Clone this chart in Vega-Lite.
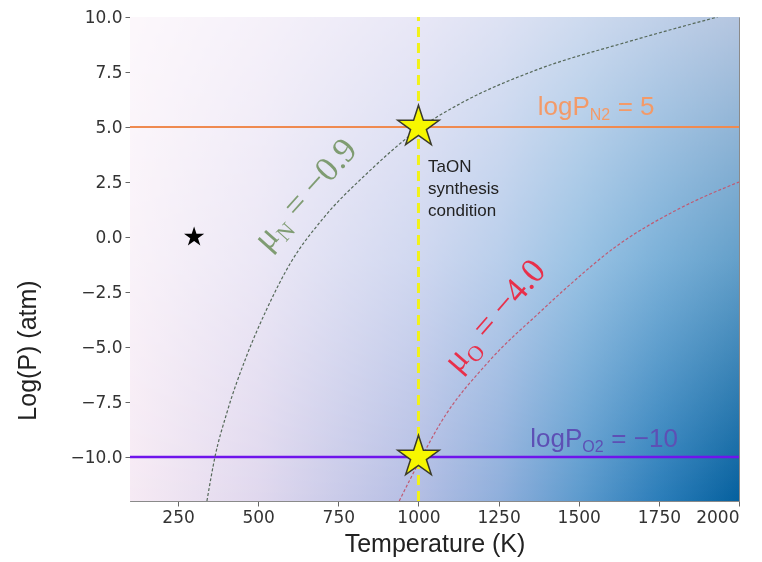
{
  "$schema": "https://vega.github.io/schema/vega-lite/v6.json",
  "width": 609,
  "height": 484,
  "autosize": {"type": "none"},
  "padding": {"left": 130, "top": 17, "right": 23, "bottom": 61},
  "background": "white",
  "config": {
    "view": {"stroke": "#8a8a8a", "strokeWidth": 1},
    "axis": {"grid": false, "domain": true, "domainColor": "#8a8a8a", "tickColor": "#666", "tickSize": 5, "labelPadding": 3, "labelFont": "DejaVu Sans", "labelFontSize": 17, "labelColor": "#333", "titleFont": "Liberation Sans", "titleFontSize": 25, "titleFontWeight": "normal", "titleColor": "#222"}
  },
  "layer": [
    {
      "data": {"values": [{"t": 100, "t2": 2000, "p": -12, "p2": 10}]},
      "layer": [
        {
          "mark": {"type": "rect", "fill": {"gradient": "linear", "x1": 0, "y1": 0, "x2": 1, "y2": 0, "stops": [
            {"offset": 0, "color": "#f6eaf4"},
            {"offset": 0.21, "color": "#e0d8ee"},
            {"offset": 0.47, "color": "#b4bee4"},
            {"offset": 0.61, "color": "#8eaedb"},
            {"offset": 0.74, "color": "#5c9acd"},
            {"offset": 0.87, "color": "#2b7db9"},
            {"offset": 1, "color": "#05609e"}]}, "stroke": null},
          "encoding": {
            "x": {"field": "t", "type": "quantitative", "scale": {"domain": [100, 2000], "nice": false, "zero": false},
              "axis": {"title": "Temperature (K)", "values": [250, 500, 750, 1000, 1250, 1500, 1750, 2000], "format": "d", "titleY": 30, "titleBaseline": "top"}},
            "x2": {"field": "t2"},
            "y": {"field": "p", "type": "quantitative", "scale": {"domain": [-12, 10], "nice": false, "zero": false},
              "axis": {"title": "Log(P) (atm)", "values": [-10, -7.5, -5, -2.5, 0, 2.5, 5, 7.5, 10], "format": ".1f", "titleX": -103, "titleY": 333, "titleAlign": "center", "titleBaseline": "middle"}},
            "y2": {"field": "p2"}
          }
        },
        {
          "mark": {"type": "rect", "blend": "screen", "fill": {"gradient": "linear", "x1": 0, "y1": 0, "x2": 0, "y2": 1, "stops": [
            {"offset": 0, "color": "#b3a3ad"},
            {"offset": 0.5, "color": "#616673"},
            {"offset": 1, "color": "#000000"}]}, "stroke": null},
          "encoding": {
            "x": {"field": "t", "type": "quantitative"},
            "x2": {"field": "t2"},
            "y": {"field": "p", "type": "quantitative"},
            "y2": {"field": "p2"}
          }
        }
      ]
    },
    {
      "data": {"values": [{"p": 5, "c": "N2"}]},
      "mark": {"type": "rule", "color": "#ef8a50", "strokeWidth": 2},
      "encoding": {"y": {"field": "p", "type": "quantitative"}}
    },
    {
      "data": {"values": [{"p": -10, "c": "O2"}]},
      "mark": {"type": "rule", "color": "#6f14ec", "strokeWidth": 2.5},
      "encoding": {"y": {"field": "p", "type": "quantitative"}}
    },
    {
      "data": {"values": [
        {"t": 340, "p": -12}, {"t": 365, "p": -10}, {"t": 402, "p": -8.0}, {"t": 464, "p": -5.4}, {"t": 526, "p": -3.3},
        {"t": 600, "p": -1.2}, {"t": 700, "p": 0.8}, {"t": 840, "p": 2.9}, {"t": 1000, "p": 4.9}, {"t": 1135, "p": 6.1},
        {"t": 1360, "p": 7.55}, {"t": 1660, "p": 8.9}, {"t": 1933, "p": 10.0}]},
      "mark": {"type": "line", "color": "#56695a", "strokeWidth": 1.2, "strokeDash": [3, 2], "interpolate": "monotone", "clip": true},
      "encoding": {"x": {"field": "t", "type": "quantitative"}, "y": {"field": "p", "type": "quantitative"}}
    },
    {
      "data": {"values": [
        {"t": 940, "p": -12}, {"t": 1010, "p": -10}, {"t": 1067, "p": -8.5}, {"t": 1223, "p": -5.6}, {"t": 1380, "p": -3.4},
        {"t": 1470, "p": -2.2}, {"t": 1610, "p": -0.5}, {"t": 1815, "p": 1.3}, {"t": 2000, "p": 2.5}]},
      "mark": {"type": "line", "color": "#c05a72", "strokeWidth": 1.2, "strokeDash": [3, 2], "interpolate": "monotone", "clip": true},
      "encoding": {"x": {"field": "t", "type": "quantitative"}, "y": {"field": "p", "type": "quantitative"}}
    },
    {
      "data": {"values": [{"t": 1000, "p": -12}, {"t": 1000, "p": 10}]},
      "mark": {"type": "line", "color": "#f2f218", "strokeWidth": 3, "strokeDash": [10, 6]},
      "encoding": {"x": {"field": "t", "type": "quantitative"}, "y": {"field": "p", "type": "quantitative"}}
    },
    {
      "data": {"values": [{"t": 1000, "p": 5}, {"t": 1000, "p": -10}]},
      "mark": {"type": "point", "filled": true, "shape": "M0,-1L0.2245,-0.309L0.951,-0.309L0.3633,0.118L0.588,0.809L0,0.382L-0.588,0.809L-0.3633,0.118L-0.951,-0.309L-0.2245,-0.309Z", "size": 1900, "fill": "#f7f700", "stroke": "#3a3a2a", "strokeWidth": 1.5, "opacity": 1},
      "encoding": {"x": {"field": "t", "type": "quantitative"}, "y": {"field": "p", "type": "quantitative"}}
    },
    {
      "data": {"values": [{"t": 300, "p": 0}]},
      "mark": {"type": "point", "filled": true, "shape": "M0,-1L0.2245,-0.309L0.951,-0.309L0.3633,0.118L0.588,0.809L0,0.382L-0.588,0.809L-0.3633,0.118L-0.951,-0.309L-0.2245,-0.309Z", "size": 450, "fill": "#000000", "opacity": 1},
      "encoding": {"x": {"field": "t", "type": "quantitative"}, "y": {"field": "p", "type": "quantitative"}}
    },
    {
      "data": {"values": [{"t": 1030, "p": 3.55, "s": "TaON\nsynthesis\ncondition"}]},
      "mark": {"type": "text", "align": "left", "baseline": "top", "font": "Liberation Sans", "fontSize": 17, "lineHeight": 22, "lineBreak": "\n", "color": "#222"},
      "encoding": {"x": {"field": "t", "type": "quantitative"}, "y": {"field": "p", "type": "quantitative"}, "text": {"field": "s"}}
    },
    {
      "data": {"values": [{"t": 1372, "p": 5.9}]},
      "encoding": {"x": {"field": "t", "type": "quantitative"}, "y": {"field": "p", "type": "quantitative"}},
      "layer": [
        {"mark": {"type": "text", "text": "logP", "align": "left", "baseline": "middle", "font": "Liberation Sans", "fontSize": 26, "color": "#f39a68"}},
        {"mark": {"type": "text", "text": "N2", "align": "left", "baseline": "middle", "font": "Liberation Sans", "fontSize": 16, "dx": 52, "dy": 8, "color": "#f39a68"}},
        {"mark": {"type": "text", "text": "= 5", "align": "left", "baseline": "middle", "font": "Liberation Sans", "fontSize": 26, "dx": 80, "color": "#f39a68"}}
      ]
    },
    {
      "data": {"values": [{"t": 1349, "p": -9.2}]},
      "encoding": {"x": {"field": "t", "type": "quantitative"}, "y": {"field": "p", "type": "quantitative"}},
      "layer": [
        {"mark": {"type": "text", "text": "logP", "align": "left", "baseline": "middle", "font": "Liberation Sans", "fontSize": 26, "color": "#5d50b5"}},
        {"mark": {"type": "text", "text": "O2", "align": "left", "baseline": "middle", "font": "Liberation Sans", "fontSize": 16, "dx": 52, "dy": 8, "color": "#5d50b5"}},
        {"mark": {"type": "text", "text": "= −10", "align": "left", "baseline": "middle", "font": "Liberation Sans", "fontSize": 26, "dx": 81, "color": "#5d50b5"}}
      ]
    },
    {
      "data": {"values": [{"t": 530, "p": -0.68}]},
      "encoding": {"x": {"field": "t", "type": "quantitative"}, "y": {"field": "p", "type": "quantitative"}},
      "layer": [
        {"mark": {"type": "text", "text": "μ", "align": "left", "baseline": "alphabetic", "angle": -48, "font": "Liberation Serif", "fontSize": 35, "color": "#7f9c72"}},
        {"mark": {"type": "text", "text": "N", "align": "left", "baseline": "alphabetic", "angle": -48, "font": "Liberation Serif", "fontSize": 22, "dx": 19, "dy": 7, "color": "#7f9c72"}},
        {"mark": {"type": "text", "text": "= −0.9", "align": "left", "baseline": "alphabetic", "angle": -48, "font": "Liberation Serif", "fontSize": 35, "dx": 44, "color": "#7f9c72"}}
      ]
    },
    {
      "data": {"values": [{"t": 1123, "p": -6.23}]},
      "encoding": {"x": {"field": "t", "type": "quantitative"}, "y": {"field": "p", "type": "quantitative"}},
      "layer": [
        {"mark": {"type": "text", "text": "μ", "align": "left", "baseline": "alphabetic", "angle": -49, "font": "Liberation Serif", "fontSize": 35, "color": "#e8304a"}},
        {"mark": {"type": "text", "text": "O", "align": "left", "baseline": "alphabetic", "angle": -49, "font": "Liberation Serif", "fontSize": 22, "dx": 19, "dy": 7, "color": "#e8304a"}},
        {"mark": {"type": "text", "text": "= −4.0", "align": "left", "baseline": "alphabetic", "angle": -49, "font": "Liberation Serif", "fontSize": 35, "dx": 44, "color": "#e8304a"}}
      ]
    }
  ]
}
